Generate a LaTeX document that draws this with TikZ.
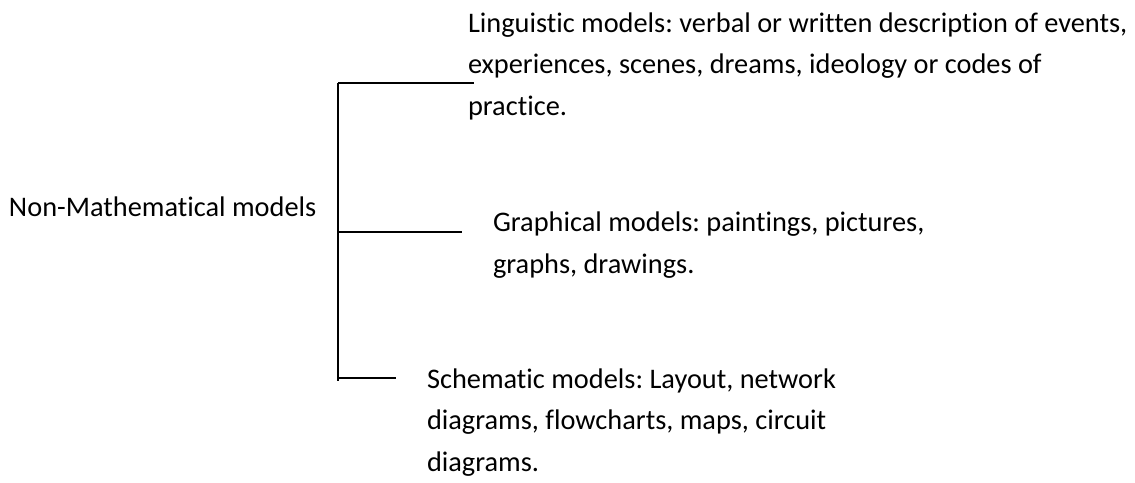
\documentclass[tikz,border=0pt]{standalone}
\usepackage{fontspec}
% Carlito without its ligatures (no joined "ti", "ft", ...)
\setmainfont{Carlito}[RawFeature={-liga;-clig;-calt;-dlig}]
\frenchspacing
\begin{document}
\begin{tikzpicture}[x=1pt,y=-1pt,
  label text/.style={anchor=base west,inner sep=0pt,outer sep=0pt,align=left,
    font=\fontsize{28.35}{41.3}\selectfont\frenchspacing},
  branch/.style={line width=1.6pt,black}]
\useasboundingbox (0,0) rectangle (1135,482);

% category and its three kinds (each placed by the baseline of its last line)
\node[label text] (root) at (9,216) {Non-Mathematical models};
\node[label text] (ling) at (468,115) {Linguistic models: verbal or written description of events,\\experiences, scenes, dreams, ideology or codes of\\practice.};
\node[label text] (graph) at (493,273) {Graphical models: paintings, pictures,\\graphs, drawings.};
\node[label text] (schem) at (427,471) {Schematic models: Layout, network\\diagrams, flowcharts, maps, circuit\\diagrams.};

% bracket: spine and branch ends
\coordinate (spineTop) at (338,83);
\coordinate (spineMid) at (338,232);
\coordinate (spineBot) at (338,378);
\coordinate (spineEnd) at (338,381);
\coordinate (lingEnd) at (474,83);
\coordinate (graphEnd) at (462,232);
\coordinate (schemEnd) at (396,378);

\draw[branch] (spineTop) -- (spineEnd);
\draw[branch] (spineTop) -- (lingEnd);
\draw[branch] (spineMid) -- (graphEnd);
\draw[branch] (spineBot) -- (schemEnd);
\end{tikzpicture}
\end{document}
